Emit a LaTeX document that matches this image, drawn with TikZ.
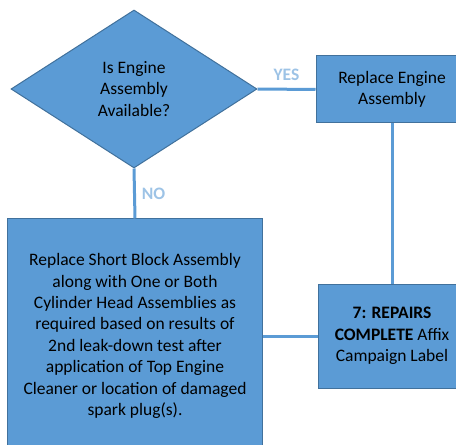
\documentclass[tikz,border=0pt]{standalone}
\usepackage{fontspec}
\setmainfont{Carlito}
\usetikzlibrary{shapes.geometric}
\definecolor{boxblue}{HTML}{5B9BD5}
\definecolor{edgeblue}{HTML}{41719C}
\definecolor{labelblue}{HTML}{9DC3E6}

\begin{document}
\begin{tikzpicture}[x=1bp,y=-1bp,
    stepbox/.style={draw=edgeblue, fill=boxblue, line width=1bp, align=center, inner sep=0pt},
    decision/.style={diamond, draw=edgeblue, fill=boxblue, line width=1bp, align=center, inner sep=0pt, aspect=1.557, minimum width=246bp, minimum height=158bp},
    link/.style={draw=boxblue, line width=3bp},
    answer/.style={text=labelblue, font=\bfseries}]
	\fontsize{17.5bp}{21.4bp}\selectfont
	\useasboundingbox (0,0) rectangle (456,445);
	\clip (0,0) rectangle (456,445);
	% Decision and the steps that follow it
	\node[decision] (avail) at (134,89) {Is Engine\\Assembly\\Available?};
	\node[stepbox, minimum width=152bp, minimum height=67bp] (engine) at (392,89.5) {Replace Engine\\Assembly};
	\node[stepbox, minimum width=254bp, minimum height=234bp] (block) at (135,336) {Replace Short Block Assembly\\along with One or Both\\Cylinder Head Assemblies as\\required based on results of\\2nd leak-down test after\\application of Top Engine\\Cleaner or location of damaged\\spark plug(s).};
	\node[stepbox, minimum width=148bp, minimum height=104bp] (done) at (392,336) {\textbf{7: REPAIRS}\\\textbf{COMPLETE} Affix\\Campaign Label};
	
	% Connectors
	\draw[link] (avail.east) -- node[answer, above=1bp] {YES} (engine.west);
	\draw[link] (avail.south) -- node[answer, right=0bp] {NO} (block.north);
	\draw[link] (engine.south) -- (done.north);
	\draw[link] (block.east) -- (done.west);
\end{tikzpicture}
\end{document}
